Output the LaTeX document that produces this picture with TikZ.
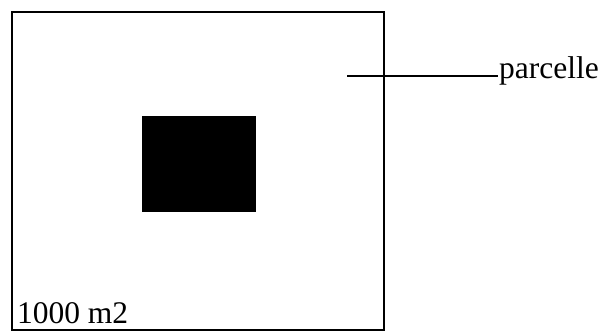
\documentclass[tikz,border=0pt]{standalone}
\usepackage{fontspec}
\setmainfont{Liberation Serif}
\begin{document}
\begin{tikzpicture}[x=1pt,y=-1pt,line width=2.2pt,
  every node/.style={inner sep=0pt,font=\fontsize{31.5}{36}\selectfont}]

\useasboundingbox (0,0) rectangle (601,334);

%%%%%%%%%%%%%%%%%%%%%%%%
% parcelle
%%%%%%%%%%%%%%%%%%%%%%%%

\coordinate(nw) at (12,12);
\coordinate(se) at (384,330);
\draw (nw) rectangle (se);

\fill (142,116) rectangle (256,212);

\node[anchor=base west](surface) at (16,323) {1000 m2};

%%%%%%%%%%%%%%%%%%%%%%%%
% legende
%%%%%%%%%%%%%%%%%%%%%%%%

\node[anchor=base west](parcelle) at (498,79) {parcelle};
\coordinate(pointe) at (347,76);

\draw (pointe) -- (parcelle.west |- pointe);

\end{tikzpicture}
\end{document}
